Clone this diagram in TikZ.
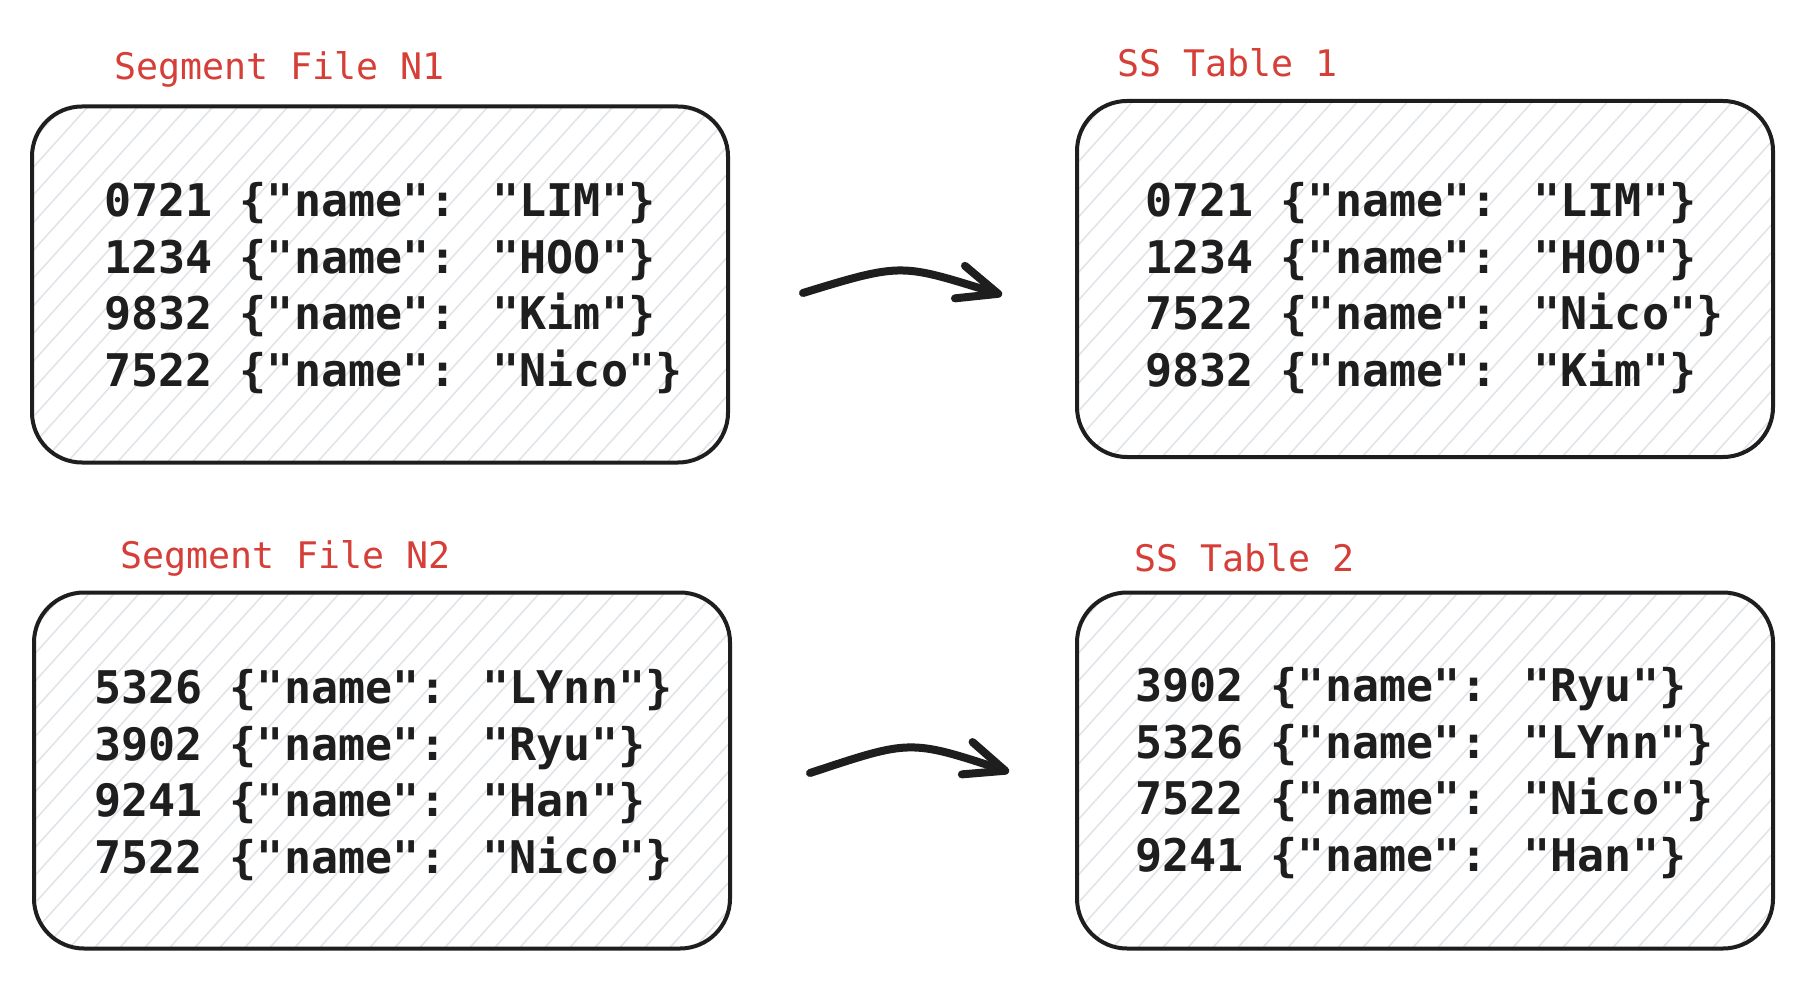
\documentclass[tikz,border=0pt]{standalone}
\usepackage{fontspec}
\newfontfamily\codefont{DejaVu Sans Mono}
\usetikzlibrary{calc,positioning}
\usetikzlibrary{arrows.meta}
\definecolor{ink}{HTML}{1E1E1E}
\definecolor{tag}{RGB}{214,62,56}
\definecolor{hatch}{HTML}{DFE4E9}
\tikzstyle{hatchline}=[hatch, line width=0.75pt]
\tikzstyle{file} = [draw=ink, line width=2pt, rounded corners=25pt, minimum width=348pt, minimum height=178pt, inner sep=0pt,
  path picture={\foreach \k in {-170,-157.5,...,360} \draw[hatchline] ([xshift=\k pt]path picture bounding box.south west) -- ++(175pt,194pt);}]
\tikzstyle{rows} = [anchor=west, align=left, inner sep=0pt, text=ink, font=\codefont\bfseries\fontsize{22.5}{28.35}\selectfont]
\tikzstyle{caption} = [anchor=base west, inner sep=0pt, text=tag, font=\codefont\fontsize{18.3}{22}\selectfont]
\tikzstyle{flow} = [draw=ink, line width=4pt, line cap=round, -{Straight Barb[length=20pt,width=17pt,round]}]

\begin{document}
\begin{tikzpicture}[x=0.5pt,y=-0.5pt]
\useasboundingbox (0,0) rectangle (1802,994);
\fill[white] (0,0) rectangle (1802,994);

\node (seg1) [file] at (380,284.5) {};
\node (sst1) [file] at (1425,279) {};
\node (seg2) [file] at (382,770.5) {};
\node (sst2) [file] at (1425,770.5) {};

\node (seg1lbl) [xshift=42pt, yshift=12.5pt] at (seg1.north west) [caption] {Segment File N1};
\node (sst1lbl) [xshift=21pt, yshift=11pt] at (sst1.north west) [caption] {SS Table 1};
\node (seg2lbl) [xshift=44pt, yshift=11pt] at (seg2.north west) [caption] {Segment File N2};
\node (sst2lbl) [xshift=29.5pt, yshift=9.5pt] at (sst2.north west) [caption] {SS Table 2};

\node (seg1txt) [xshift=37pt, yshift=-1.75pt] at (seg1.west) [rows] {0721 \{"name": "LIM"\}\\1234 \{"name": "HOO"\}\\9832 \{"name": "Kim"\}\\7522 \{"name": "Nico"\}};
\node (sst1txt) [xshift=35pt, yshift=-4.5pt] at (sst1.west) [rows] {0721 \{"name": "LIM"\}\\1234 \{"name": "HOO"\}\\7522 \{"name": "Nico"\}\\9832 \{"name": "Kim"\}};
\node (seg2txt) [xshift=31pt, yshift=-2.25pt] at (seg2.west) [rows] {5326 \{"name": "LYnn"\}\\3902 \{"name": "Ryu"\}\\9241 \{"name": "Han"\}\\7522 \{"name": "Nico"\}};
\node (sst2txt) [xshift=30pt, yshift=-1.25pt] at (sst2.west) [rows] {3902 \{"name": "Ryu"\}\\5326 \{"name": "LYnn"\}\\7522 \{"name": "Nico"\}\\9241 \{"name": "Han"\}};

% sort arrows
\coordinate (from1) at (803,293);
\coordinate (to1) at (1002,295);
\coordinate (from2) at (810,773);
\coordinate (to2) at (1009,772);
\draw [flow] (from1) .. controls +(101,-31) and +(-101,-31) .. (to1);
\draw [flow] (from2) .. controls +(100,-33) and +(-100,-33) .. (to2);

\end{tikzpicture}
\end{document}
